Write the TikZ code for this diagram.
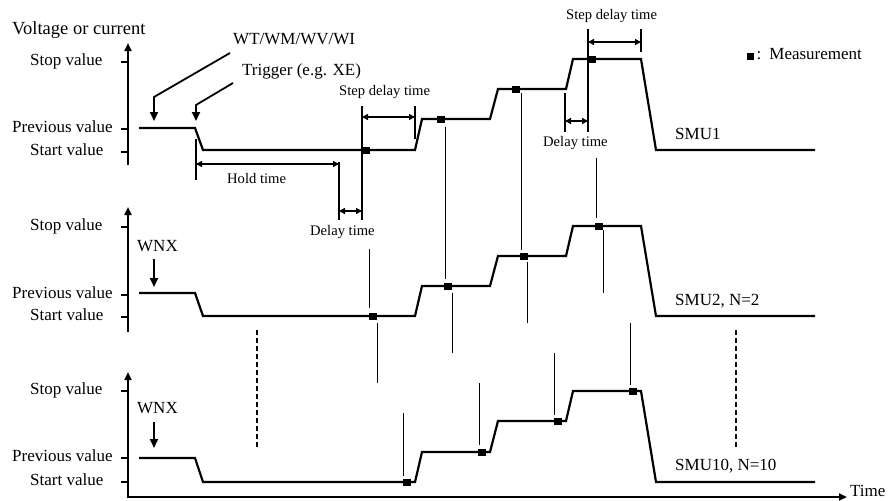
\documentclass[tikz,border=0pt]{standalone}
\usepackage{fontspec}
\setmainfont{Liberation Serif}
\usetikzlibrary{arrows.meta}
\begin{document}
\begin{tikzpicture}[x=1pt,y=-1pt,
  sig/.style={line width=2.2pt, line join=miter},
  axis/.style={line width=2pt},
  thinl/.style={line width=0.9pt},
  big/.style={font=\fontsize{17}{20}\selectfont, inner sep=0pt, anchor=base west},
  small/.style={font=\fontsize{14.6}{17}\selectfont, inner sep=0pt, anchor=base west},
  meas/.style={rectangle, fill=black, draw=none, minimum width=8pt, minimum height=7pt, inner sep=0pt},
  dimext/.style={line width=1.8pt},
  dimarr/.style={line width=1.8pt, {Triangle[length=6pt,width=6pt]}-{Triangle[length=6pt,width=6pt]}},
  callout/.style={line width=1.8pt, -{Triangle[length=9pt,width=8pt]}},
  axarr/.style={-{Triangle[length=8pt,width=7pt]}},
  dashv/.style={line width=1.8pt, dash pattern=on 5pt off 3pt}
]
\useasboundingbox (0,0) rectangle (895,501);

% ---------- axes ----------
\node[big, font=\fontsize{18.5}{21}\selectfont] (ylab) at (12,34) {Voltage or current};
\draw[axis, axarr] (128,165) -- (128,43);
\draw[axis] (121,62) -- (128,62) (121,129) -- (128,129) (121,152) -- (128,152);
\draw[axis, axarr] (128,332) -- (128,207);
\draw[axis] (121,227) -- (128,227) (121,295) -- (128,295) (121,317) -- (128,317);
\draw[axis, {Triangle[length=8pt,width=7pt]}-{Triangle[length=8pt,width=7pt]}] (128,372) -- (128,497) -- (847,497);
\draw[axis] (121,391) -- (128,391) (121,458) -- (128,458) (121,482) -- (128,482);
\node[big] (time) at (850,496.3) {Time};

% tick labels
\node[big] (s1) at (30,65.5) {Stop value};
\node[big] (p1) at (12,132.5) {Previous value};
\node[big] (t1) at (30,155.5) {Start value};
\node[big] (s2) at (30,230.5) {Stop value};
\node[big] (p2) at (12,298.5) {Previous value};
\node[big] (t2) at (30,320.5) {Start value};
\node[big] (s3) at (30,394.5) {Stop value};
\node[big] (p3) at (12,461.5) {Previous value};
\node[big] (t3) at (30,485.5) {Start value};

% ---------- signals ----------
\draw[sig] (139,128) -- (195,128) -- (203,150) -- (415,150) -- (422,119) -- (490,119) -- (498,89) -- (566,89) -- (573,59) -- (641,59) -- (656,150) -- (815,150);
\draw[sig] (139,293) -- (195,293) -- (203,316) -- (415,316) -- (422,286) -- (490,286) -- (498,256) -- (566,256) -- (573,226) -- (641,226) -- (656,316) -- (815,316);
\draw[sig] (139,458) -- (195,458) -- (203,482) -- (415,482) -- (422,452) -- (490,452) -- (498,421) -- (566,421) -- (573,391) -- (641,391) -- (656,482) -- (815,482);

\node[big] (smu1) at (675,139) {SMU1};
\node[big] (smu2) at (675,305.6) {SMU2, N=2};
\node[big] (smu10) at (675,470.6) {SMU10, N=10};

% ---------- callouts ----------
\node[big] (wt) at (233,44.5) {WT/WM/WV/WI};
\node[big] (trg) at (242,75) {Trigger (e.g. XE)};
\draw[callout] (230,53) -- (154,97) -- (154,121);
\draw[callout] (233,83) -- (196,105) -- (196,121);
\node[big] (wnx1) at (137,251.3) {WNX};
\node[big] (wnx2) at (137,413) {WNX};
\draw[callout] (154,259) -- (154,287);
\draw[callout] (154,422) -- (154,448);

% ---------- dimensions ----------
\draw[dimext] (196,139) -- (196,180);
\draw[dimext] (339,162) -- (339,220);
\draw[dimext] (362,106) -- (362,220);
\draw[dimext] (415,106) -- (415,139);
\draw[dimarr] (196,164) -- (339,164);
\draw[dimarr] (339,211) -- (362,211);
\draw[dimarr] (362,117) -- (415,117);
\node[small] (hold) at (227,183.5) {Hold time};
\node[small] (dly1) at (310,235.5) {Delay time};
\node[small] (sdly1) at (339,95.5) {Step delay time};

\draw[dimext] (565,93) -- (565,132);
\draw[dimext] (588,29) -- (588,132);
\draw[dimext] (641,29) -- (641,52);
\draw[dimarr] (565,121) -- (588,121);
\draw[dimarr] (588,42) -- (641,42);
\node[small] (dly2) at (543,146.5) {Delay time};
\node[small] (sdly2) at (566,19) {Step delay time};

% ---------- measurements ----------
\node[meas] (m11) at (366,150) {};
\node[meas] (m12) at (441,119) {};
\node[meas] (m13) at (516,89) {};
\node[meas] (m14) at (592,59) {};
\node[meas] (m21) at (373,316) {};
\node[meas] (m22) at (448,286) {};
\node[meas] (m23) at (524,256) {};
\node[meas] (m24) at (599,226) {};
\node[meas] (m31) at (407,482) {};
\node[meas] (m32) at (482,452) {};
\node[meas] (m33) at (558,421) {};
\node[meas] (m34) at (633,391) {};

% thin guide lines
\draw[thinl] (369,249) -- (369,308);
\draw[thinl] (377,323) -- (377,383);
\draw[thinl] (403,413) -- (403,476);
\draw[thinl] (445,127) -- (445,279);
\draw[thinl] (452,293) -- (452,353);
\draw[thinl] (479,383) -- (479,445);
\draw[thinl] (521,93) -- (521,250);
\draw[thinl] (527,262) -- (527,323);
\draw[thinl] (554,353) -- (554,415);
\draw[thinl] (596,158) -- (596,218);
\draw[thinl] (603,230) -- (603,293);
\draw[thinl] (630,323) -- (630,385);

% dashed continuation marks
\draw[dashv] (257,330) -- (257,448);
\draw[dashv] (736,330) -- (736,448);

% legend
\node[meas, minimum width=7pt, minimum height=7pt] (legsq) at (750.3,56.3) {};
\node[big] (leg) at (756.5,59.6) {:\hspace{8pt}Measurement};
\end{tikzpicture}
\end{document}
